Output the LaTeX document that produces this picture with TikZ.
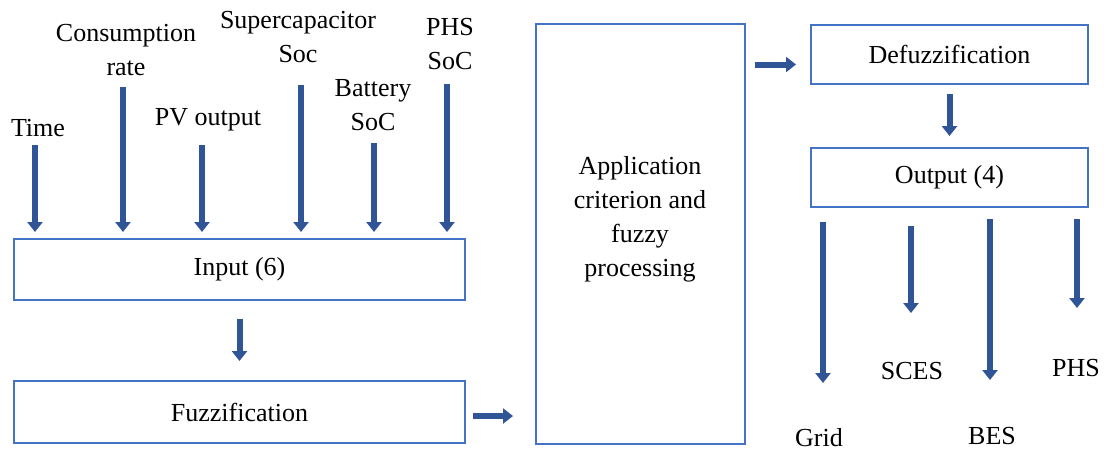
\documentclass[tikz,border=0pt]{standalone}
\usepackage{fontspec}
\setmainfont{Liberation Serif}
\usepackage{tikz}
\usetikzlibrary{arrows.meta}
\definecolor{boxblue}{HTML}{4472C4}
\definecolor{arrblue}{HTML}{2F5597}
\tikzset{
	box/.style={draw=boxblue, line width=1pt, inner sep=0pt, font=\fontsize{13}{17}\selectfont},
	lbl/.style={align=center, inner sep=0pt, font=\fontsize{13}{17}\selectfont},
	fat/.style={draw=arrblue, line width=3pt, -{Triangle[length=5pt,width=7.5pt]}}
}

\begin{document}
\begin{tikzpicture}[x=0.5pt, y=-0.5pt]
	\useasboundingbox (0,0) rectangle (1104,452);
	\node [box, minimum width=225.5pt, minimum height=30.5pt] (inp) at (239.5,269.5) {Input (6)};
	\node [box, minimum width=225.5pt, minimum height=31pt] (fuz) at (239.5,412) {Fuzzification};
	\node [box, minimum width=104.5pt, minimum height=210pt] (app) at (640.5,234) {};
	\node [lbl] (apptxt) at (640,219) {Application\\criterion and\\fuzzy\\processing};
	\node [box, minimum width=138.5pt, minimum height=29.5pt] (dfz) at (949.5,54.5) {Defuzzification};
	\node [box, minimum width=138.5pt, minimum height=29.5pt] (out) at (949.5,177.5) {Output (4)};

	\node [lbl] (time) at (38,128.5) {Time};
	\node [lbl] (cons) at (126,50) {Consumption\\rate};
	\node [lbl] (pv) at (208,120) {PV output};
	\node [lbl] (sup) at (298,37) {Supercapacitor\\Soc};
	\node [lbl] (bat) at (373,105) {Battery\\SoC};
	\node [lbl] (phs) at (450,44) {PHS\\SoC};

	\coordinate (a1) at (35,145);
	\coordinate (a2) at (123,87);
	\coordinate (a3) at (202,145);
	\coordinate (a4) at (301,85);
	\coordinate (a5) at (374,143);
	\coordinate (a6) at (447,84);
	\foreach \a in {a1,a2,a3,a4,a5,a6}
		\draw [fat, shorten >=3pt] (\a) -- (\a |- inp.north);

	\draw [fat, shorten <=9pt, shorten >=9.5pt] (inp.south) -- (fuz.north);
	\draw [fat, shorten <=3.5pt, shorten >=11pt] ([yshift=-2pt]fuz.east) -- ([yshift=-2pt]fuz.east -| app.west);
	\draw [fat, shorten <=4.5pt, shorten >=7pt] ([yshift=-5pt]dfz.west -| app.east) -- ([yshift=-5pt]dfz.west);
	\draw [fat, shorten <=4.5pt, shorten >=5.5pt] (dfz.south) -- (out.north);

	\node [lbl] (grid) at (819,438) {Grid};
	\node [lbl] (sces) at (912,371) {SCES};
	\node [lbl] (bes) at (992,436) {BES};
	\node [lbl] (phso) at (1076,368) {PHS};

	\coordinate (b1) at (823,383);
	\coordinate (b2) at (911,313);
	\coordinate (b3) at (990,380);
	\coordinate (b4) at (1077,308);
	\draw [fat, shorten <=7pt] (b1 |- out.south) -- (b1);
	\draw [fat, shorten <=9pt] (b2 |- out.south) -- (b2);
	\draw [fat, shorten <=5.5pt] (b3 |- out.south) -- (b3);
	\draw [fat, shorten <=5.5pt] (b4 |- out.south) -- (b4);
\end{tikzpicture}
\end{document}
